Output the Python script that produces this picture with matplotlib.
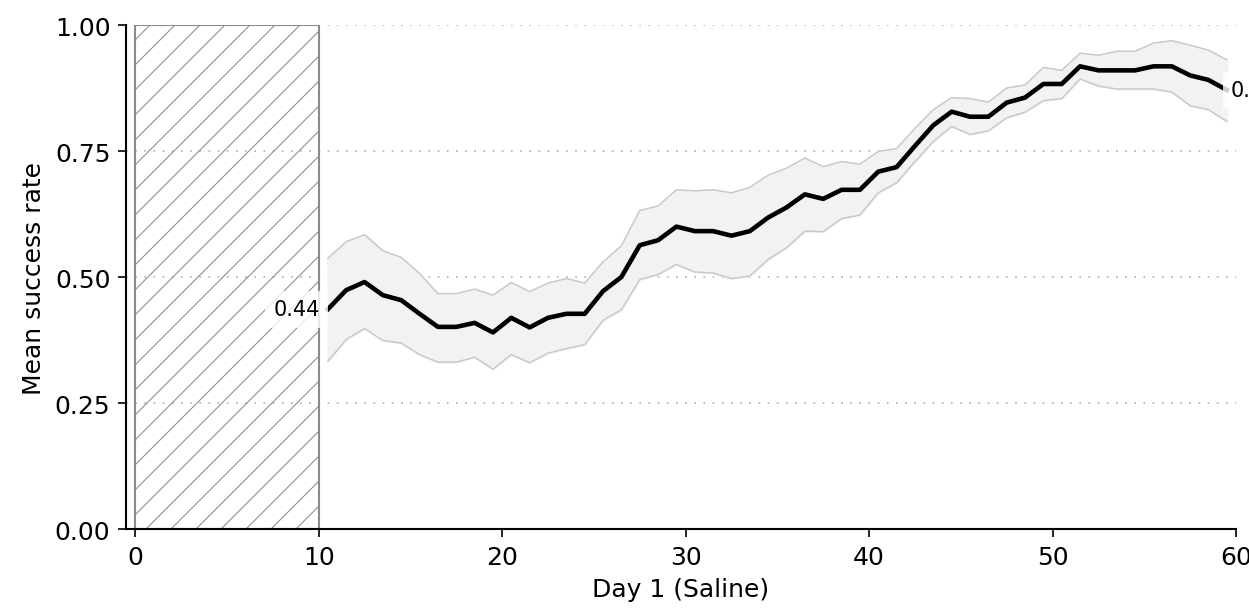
import matplotlib
matplotlib.use("Agg")
import matplotlib.pyplot as plt

# Rolling success rate, days 10.5 .. 59.5 (window centres)
DAYS = [10.5 + i for i in range(50)]

MEAN = [0.436, 0.474, 0.490, 0.464, 0.454, 0.427, 0.401, 0.401, 0.409, 0.390,
        0.419, 0.400, 0.419, 0.427, 0.427,
        0.472, 0.500, 0.563, 0.573, 0.600, 0.591, 0.591, 0.582, 0.591, 0.618,
        0.638, 0.664, 0.655, 0.673, 0.673, 0.709, 0.718,
        0.760, 0.801, 0.828, 0.818, 0.818, 0.846, 0.856, 0.883, 0.883, 0.918,
        0.910, 0.910, 0.910, 0.918, 0.918, 0.900, 0.891, 0.871]

UPPER = [0.537, 0.570, 0.584, 0.552, 0.539, 0.507, 0.467, 0.467, 0.476, 0.464,
         0.489, 0.471, 0.488, 0.497, 0.488,
         0.530, 0.562, 0.632, 0.641, 0.673, 0.671, 0.673, 0.667, 0.678, 0.702,
         0.716, 0.736, 0.719, 0.729, 0.724, 0.749, 0.755,
         0.795, 0.832, 0.856, 0.854, 0.847, 0.875, 0.881, 0.916, 0.910, 0.944,
         0.940, 0.948, 0.948, 0.964, 0.969, 0.960, 0.950, 0.931]

LOWER = [0.333, 0.376, 0.398, 0.374, 0.369, 0.346, 0.331, 0.331, 0.341, 0.317,
         0.346, 0.330, 0.349, 0.358, 0.366,
         0.414, 0.435, 0.495, 0.505, 0.525, 0.510, 0.508, 0.497, 0.502, 0.535,
         0.558, 0.591, 0.590, 0.616, 0.623, 0.667, 0.687,
         0.729, 0.769, 0.799, 0.783, 0.790, 0.816, 0.827, 0.850, 0.854, 0.893,
         0.879, 0.873, 0.873, 0.873, 0.867, 0.840, 0.832, 0.809]

# excluded window at the start of the session
MASK_START, MASK_END = 0, 10

X_TICKS = [0, 10, 20, 30, 40, 50, 60]
Y_TICKS = [0.0, 0.25, 0.5, 0.75, 1.0]


def main():
    plt.rcParams["hatch.linewidth"] = 0.5
    fig = plt.figure(figsize=(1249 / 150, 609 / 150), dpi=150)
    ax = fig.add_axes([0.1009, 0.1297, 0.8887, 0.8276])

    # hatched block for the masked days
    ax.axvspan(MASK_START, MASK_END, facecolor="none", edgecolor="#8a8a8a",
               hatch="//", linewidth=1.0, zorder=1)

    # confidence band + mean
    ax.fill_between(DAYS, LOWER, UPPER, color="#f2f2f2", zorder=2)
    ax.plot(DAYS, UPPER, color="#c8c8c8", linewidth=0.7, zorder=2)
    ax.plot(DAYS, LOWER, color="#c8c8c8", linewidth=0.7, zorder=2)
    ax.plot(DAYS, MEAN, color="black", linewidth=2.2, zorder=3)

    # start / end value labels
    box = dict(boxstyle="square,pad=0.4", fc="white", ec="none", alpha=0.8)
    ax.annotate(f"{MEAN[0]:.2f}", xy=(DAYS[0], MEAN[0]), xytext=(-4, 0),
                textcoords="offset points", ha="right", va="center",
                fontsize=10, bbox=box, zorder=5, annotation_clip=False)
    ax.annotate(f"{MEAN[-1]:.2f}", xy=(DAYS[-1], MEAN[-1]), xytext=(2, 0),
                textcoords="offset points", ha="left", va="center",
                fontsize=10, bbox=box, zorder=5, annotation_clip=False)

    ax.set_xlim(-0.5, 60)
    ax.set_ylim(0, 1.0)
    ax.set_xticks(X_TICKS)
    ax.set_yticks(Y_TICKS)
    ax.set_yticklabels([f"{t:.2f}" for t in Y_TICKS])
    ax.tick_params(labelsize=12, length=4, width=0.8)

    ax.yaxis.grid(True, color="#b0b0b0", linewidth=0.8, linestyle=(0, (1, 4.5)))
    ax.set_axisbelow(True)

    for side in ("top", "right"):
        ax.spines[side].set_visible(False)
    for side in ("left", "bottom"):
        ax.spines[side].set_linewidth(1.0)

    ax.set_xlabel("Day 1 (Saline)", fontsize=12)
    ax.set_ylabel("Mean success rate", fontsize=12)

    fig.savefig("out.png", dpi=150)


if __name__ == "__main__":
    main()
